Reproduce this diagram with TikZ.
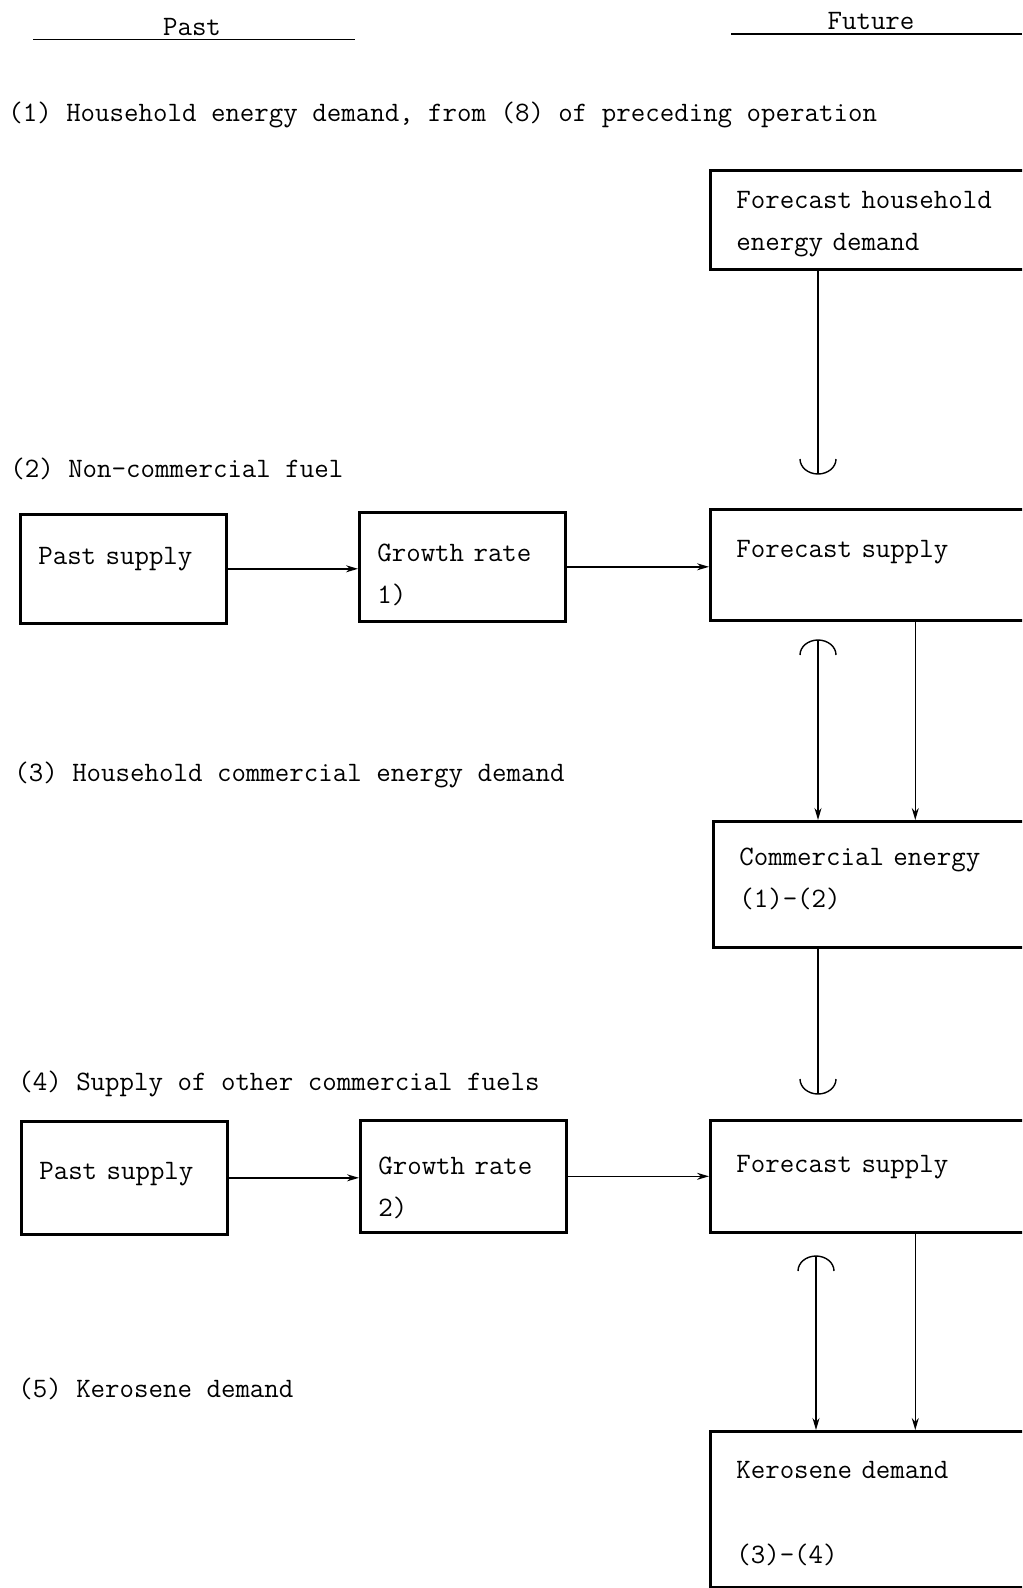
\documentclass[tikz,border=0pt]{standalone}
\usepackage{tikz}
\usetikzlibrary{arrows.meta, positioning}

\begin{document}
\begin{tikzpicture}[
    x=0.02cm, y=-0.02cm,
    every node/.style={font=\fontsize{16}{23.8}\selectfont\ttfamily},
    pastbox/.style={rectangle, draw=black, line width=1.5pt, anchor=north west, inner xsep=0.36cm, inner ysep=0pt, text width=3.4cm, align=left},
    futbox/.style={pastbox, inner xsep=0.52cm, text width=5.56cm},
    head/.style={anchor=base, inner sep=0pt},
    stage/.style={anchor=base west, inner sep=0pt},
    arr/.style={draw=black, line width=0.8pt, -{Stealth[length=0.24cm, width=0.14cm]}},
    feed/.style={draw=black, line width=0.8pt}
]
    \useasboundingbox (0,0) rectangle (1022,1588);
    \clip (0,0) rectangle (1022,1588);

    % Headings
    \node[head] (past) at (192,36) {Past};
    \node[head] (future) at (871,30) {Future};
    \draw[line width=1pt] (33,39.5) -- (355,39.5);
    \draw[line width=1pt] (731,34) -- (1022,34);

    % (1)
    \node[stage] (s1) at (8,122) {(1) Household energy demand, from (8) of preceding operation};
    \node[futbox, text height=0.76cm, text depth=1.22cm] (fhh) at (709,169) {Forecast household\\energy demand};

    % (2)
    \node[stage] (s2) at (10,477) {(2) Non-commercial fuel};
    \node[pastbox, text height=1.0cm, text depth=1.18cm] (ps1) at (19,513) {Past supply};
    \node[pastbox, text height=0.98cm, text depth=1.2cm] (gr1) at (358,511) {Growth rate\\1)};
    \node[futbox, text height=0.96cm, text depth=1.26cm] (fs1) at (709,508) {Forecast supply};

    % (3)
    \node[stage] (s3) at (14,781) {(3) Household commercial energy demand};
    \node[futbox, text height=0.88cm, text depth=1.64cm] (ce) at (712,820) {Commercial energy\\(1)-(2)};

    % (4)
    \node[stage] (s4) at (18,1090) {(4) Supply of other commercial fuels};
    \node[pastbox, text height=1.16cm, text depth=1.1cm] (ps2) at (20,1120) {Past supply};
    \node[pastbox, text height=1.08cm, text depth=1.16cm] (gr2) at (359,1119) {Growth rate\\2)};
    \node[futbox, text height=1.04cm, text depth=1.2cm] (fs2) at (709,1119) {Forecast supply};

    % (5)
    \node[stage] (s5) at (18,1397) {(5) Kerosene demand};
    \node[futbox, text height=0.94cm, text depth=2.18cm] (kd) at (709,1430) {Kerosene demand\\[0.86cm](3)-(4)};

    % Connectors
    \coordinate (cup1) at (818,474);
    \coordinate (cap1) at (818,640);
    \coordinate (cup2) at (818,1094);
    \coordinate (cap2) at (816,1256);

    \draw[feed] (fhh.south -| cup1) -- (cup1);
    \draw[feed] (cup1) ++(-18,-15) arc[start angle=180, end angle=0, x radius=18, y radius=15];

    \draw[arr] (ps1.east) -- (ps1.east -| gr1.west);
    \draw[arr] (gr1.east) -- (gr1.east -| fs1.west);

    \draw[feed] (cap1) ++(-18,15) arc[start angle=180, end angle=360, x radius=18, y radius=15];
    \draw[arr] (cap1) -- (cap1 |- ce.north);
    \draw[arr] ([xshift=0.8cm]fs1.south) -- ([xshift=0.8cm]fs1.south |- ce.north);

    \draw[feed] (ce.south -| cup2) -- (cup2);
    \draw[feed] (cup2) ++(-18,-15) arc[start angle=180, end angle=0, x radius=18, y radius=15];

    \draw[arr] (ps2.east) -- (ps2.east -| gr2.west);
    \draw[arr] (gr2.east) -- (gr2.east -| fs2.west);

    \draw[feed] (cap2) ++(-18,15) arc[start angle=180, end angle=360, x radius=18, y radius=15];
    \draw[arr] (cap2) -- (cap2 |- kd.north);
    \draw[arr] ([xshift=0.8cm]fs2.south) -- ([xshift=0.8cm]fs2.south |- kd.north);
\end{tikzpicture}
\end{document}
